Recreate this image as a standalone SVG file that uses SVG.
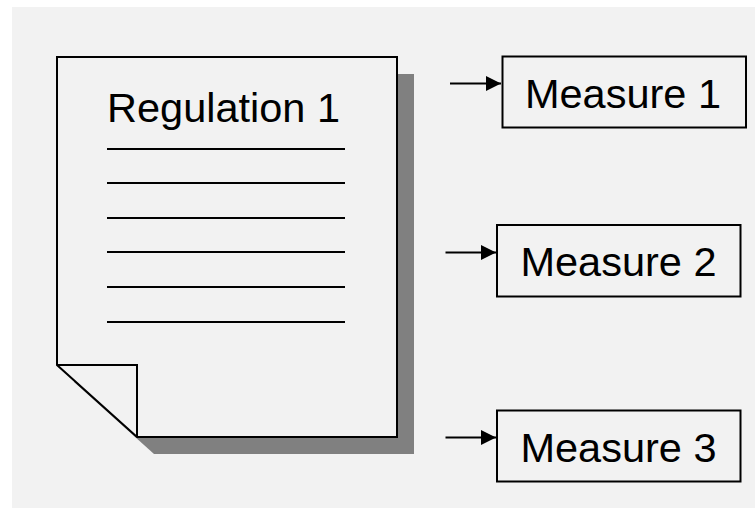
<svg xmlns="http://www.w3.org/2000/svg" width="755" height="508" viewBox="0 0 755 508">
<defs>
<style>
.t{font-family:"Liberation Sans",Arial,sans-serif;font-size:41.5px;fill:#000}
.box{fill:#F2F2F2;stroke:#000;stroke-width:2}
.ln{stroke:#000;stroke-width:2}
.conn{stroke:#000;stroke-width:2;fill:none}
</style>
<marker id="ah" markerWidth="16" markerHeight="16" viewBox="0 0 16 16" refX="15" refY="8" orient="auto" markerUnits="userSpaceOnUse">
<path d="M0,0.5 L15,8 L0,15.5 Z" fill="#000"/>
</marker>
</defs>
<rect x="0" y="0" width="755" height="508" fill="#FFFFFF"/>
<rect x="12" y="7" width="743" height="501" fill="#F2F2F2"/>
<g id="regulation">
<path d="M74,74 H414 V454 H154 L74,382 Z" fill="#808080"/>
<path d="M57,57 H397 V437 H137 L57,365 Z" fill="#F2F2F2" stroke="#000" stroke-width="2" stroke-linejoin="miter"/>
<path d="M57,365 H137 V437" fill="none" stroke="#000" stroke-width="2"/>
<text class="t" x="107" y="122">Regulation 1</text>
<line class="ln" x1="107" y1="149" x2="345" y2="149"/>
<line class="ln" x1="107" y1="183" x2="345" y2="183"/>
<line class="ln" x1="107" y1="218" x2="345" y2="218"/>
<line class="ln" x1="107" y1="252" x2="345" y2="252"/>
<line class="ln" x1="107" y1="287" x2="345" y2="287"/>
<line class="ln" x1="107" y1="322" x2="345" y2="322"/>
</g>
<g id="measure1">
<rect class="box" x="502.5" y="56.5" width="243.5" height="71"/>
<text class="t" x="623" y="108" text-anchor="middle">Measure 1</text>
</g>
<g id="measure2">
<rect class="box" x="497" y="225" width="243.5" height="71.5"/>
<text class="t" x="618.5" y="276" text-anchor="middle">Measure 2</text>
</g>
<g id="measure3">
<rect class="box" x="497" y="410.5" width="243.5" height="71"/>
<text class="t" x="618.5" y="462" text-anchor="middle">Measure 3</text>
</g>
<g id="connectors">
<line class="conn" x1="450" y1="83.5" x2="501" y2="83.5" marker-end="url(#ah)"/>
<line class="conn" x1="445.5" y1="252.5" x2="496" y2="252.5" marker-end="url(#ah)"/>
<line class="conn" x1="445.5" y1="437.5" x2="496" y2="437.5" marker-end="url(#ah)"/>
</g>
</svg>
